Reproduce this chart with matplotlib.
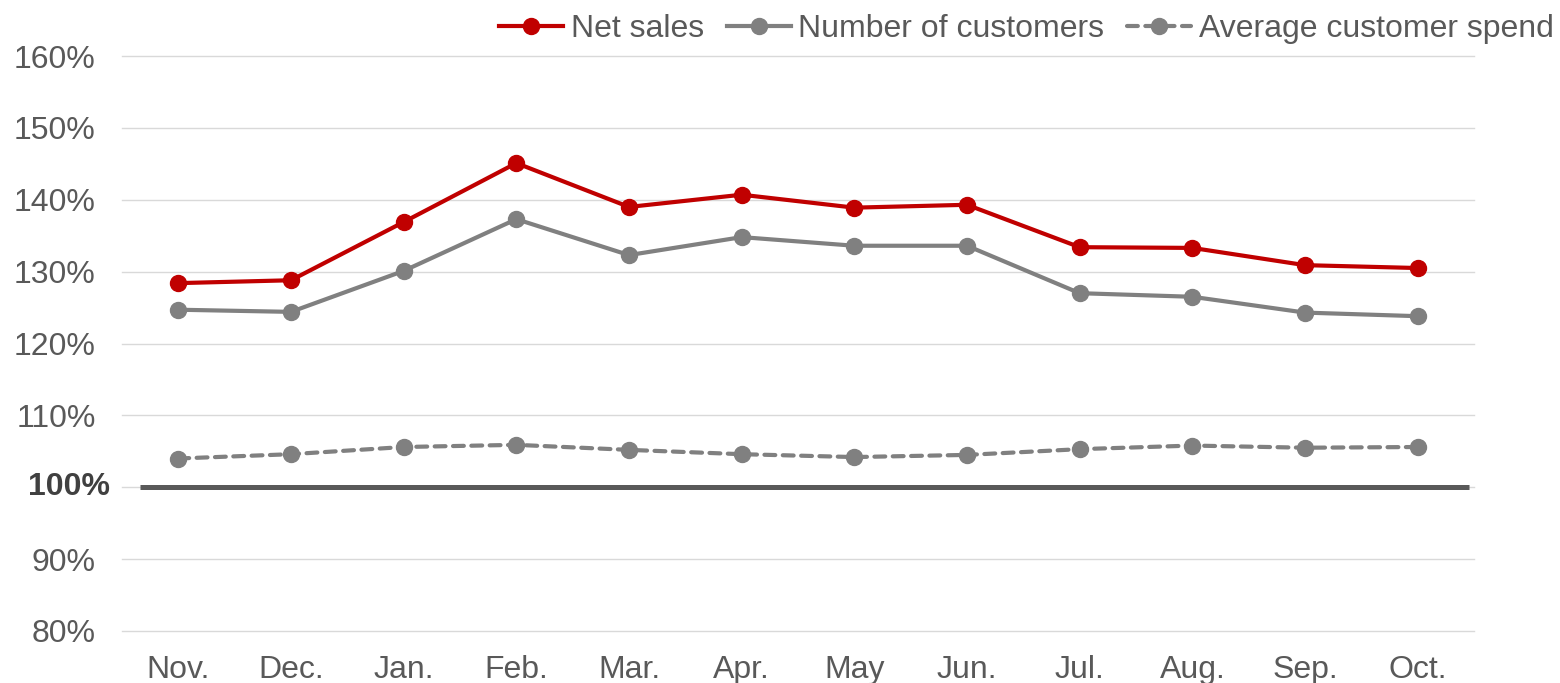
import matplotlib
matplotlib.use("Agg")
import matplotlib.pyplot as plt
import matplotlib.transforms as mtransforms
import numpy as np

plt.rcParams['font.family'] = ['Liberation Sans', 'DejaVu Sans']

months = ["Nov.", "Dec.", "Jan.", "Feb.", "Mar.", "Apr.", "May", "Jun.", "Jul.", "Aug.", "Sep.", "Oct."]
net_sales = [128.4, 128.8, 136.9, 145.1, 139.0, 140.7, 138.9, 139.3, 133.4, 133.3, 130.9, 130.5]
customers = [124.7, 124.4, 130.1, 137.3, 132.3, 134.8, 133.6, 133.6, 127.0, 126.5, 124.3, 123.8]
avg_spend = [104.0, 104.6, 105.6, 105.9, 105.2, 104.6, 104.2, 104.5, 105.3, 105.8, 105.5, 105.6]
yticks = [80, 90, 100, 110, 120, 130, 140, 150, 160]

RED = "#C00000"
GREY = "#808080"
TXT = "#595959"
FS = 23

fig = plt.figure(figsize=(15.6, 6.83), dpi=100)
ax = fig.add_axes([122 / 1560, 1 - 631 / 683, 1352 / 1560, 575 / 683])

x = np.arange(len(months))
ax.plot(x, net_sales, color=RED, lw=3, marker="o", ms=11.5, label="Net sales", zorder=5)
ax.plot(x, customers, color=GREY, lw=3, marker="o", ms=11.5, label="Number of customers", zorder=4)
ax.plot(x, avg_spend, color=GREY, lw=3, ls=(0, (2.6, 1.8)), dash_capstyle="round",
        marker="o", ms=11.5, label="Average customer spend", zorder=4)

ax.set_xlim(-0.5, len(months) - 0.5)
ax.set_ylim(80, 160)
ax.set_yticks(yticks)
ax.set_yticklabels(["" if v == 100 else f"{v}%" for v in yticks])
ax.set_xticks(x)
ax.set_xticklabels(months)
ax.tick_params(axis="both", length=0, labelsize=FS, colors=TXT)
ax.tick_params(axis="y", pad=19)
ax.tick_params(axis="x", pad=17)

for v in yticks:
    ax.axhline(v, color="#D9D9D9", lw=1, zorder=1, clip_on=False)
# heavy 100% reference line
ax.plot([-0.34, 11.46], [100, 100], color="#595959", lw=3.6, zorder=3, solid_capstyle="butt")
trans = mtransforms.blended_transform_factory(fig.transFigure, ax.transData)
ax.text(110 / 1560, 100, "100%", transform=trans, ha="right", va="center",
        fontsize=FS, fontweight="bold", color="#404040")

for s in ax.spines.values():
    s.set_visible(False)

fig.legend(loc="upper right", bbox_to_anchor=(1.0, 1.0 - 8 / 683), ncol=3, frameon=False,
           fontsize=FS, labelcolor=TXT, handlelength=2.0, handletextpad=0.25,
           columnspacing=0.7, borderaxespad=0.0, borderpad=0.2)

fig.savefig("out.png", dpi=100)
